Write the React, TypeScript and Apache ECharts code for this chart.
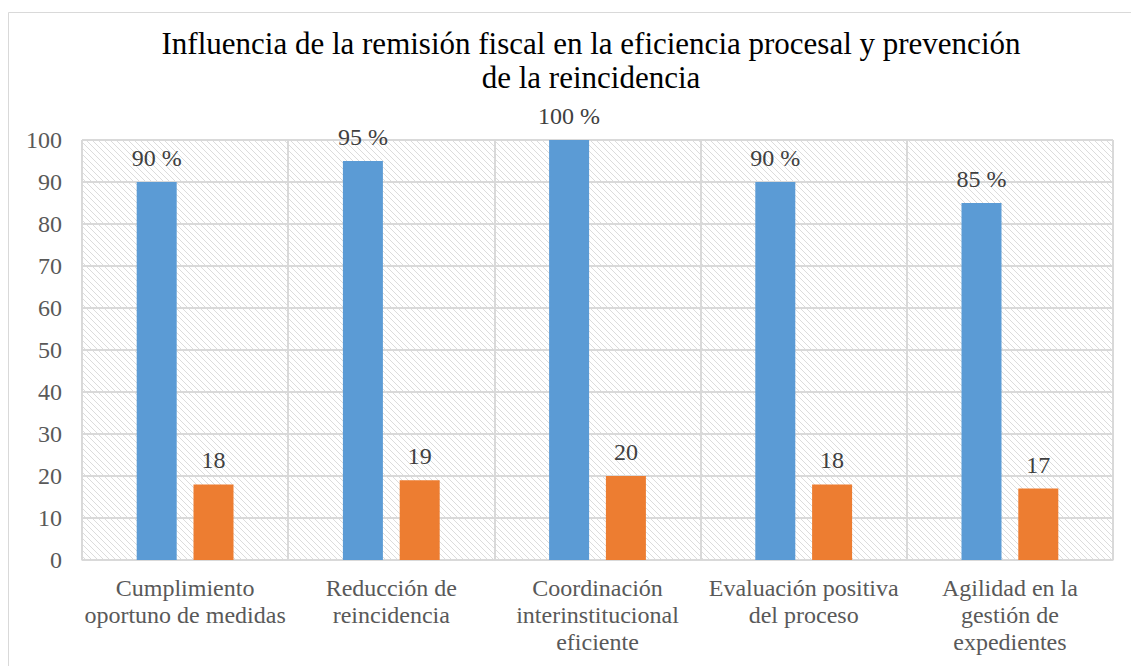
import React, { useEffect, useRef } from "react";
import * as echarts from "echarts";

const TITLE = "Influencia de la remisión fiscal en la eficiencia procesal y prevención\nde la reincidencia";
const categories = [
  "Cumplimiento\noportuno de medidas",
  "Reducción de\nreincidencia",
  "Coordinación\ninterinstitucional\neficiente",
  "Evaluación positiva\ndel proceso",
  "Agilidad en la\ngestión de\nexpedientes",
];
const percentValues = [90, 95, 100, 90, 85];
const countValues = [18, 19, 20, 18, 17];
const yTicks = { min: 0, max: 100, interval: 10 };

function makeHatch(): string {
  const c = document.createElement("canvas");
  const s = 6;
  c.width = s;
  c.height = s;
  const ctx = c.getContext("2d")!;
  ctx.fillStyle = "#ffffff";
  ctx.fillRect(0, 0, s, s);
  ctx.strokeStyle = "#dcdcdc";
  ctx.lineWidth = 1;
  ctx.beginPath();
  ctx.moveTo(-1, -1);
  ctx.lineTo(s + 1, s + 1);
  ctx.moveTo(-1, s - 1);
  ctx.lineTo(1, s + 1);
  ctx.moveTo(s - 1, -1);
  ctx.lineTo(s + 1, 1);
  ctx.stroke();
  return c.toDataURL();
}

export default function App() {
  const ref = useRef<HTMLDivElement>(null);
  useEffect(() => {
    if (!ref.current) return;
    const chart = echarts.init(ref.current, null, { renderer: "svg" });
    const font = "Liberation Serif";
    chart.setOption({
      animation: false,
      backgroundColor: "#ffffff",
      textStyle: { fontFamily: font },
      title: {
        text: TITLE,
        left: 586,
        textAlign: "center",
        top: 21,
        textStyle: {
          fontFamily: font,
          fontSize: 31,
          fontWeight: "normal",
          color: "#000000",
          lineHeight: 34,
        },
      },
      graphic: [
        {
          type: "rect",
          shape: { x: 8.5, y: 12.5, width: 1300, height: 800 },
          style: { fill: "none", stroke: "#d9d9d9", lineWidth: 1 },
          silent: true,
          z: -10,
        },
      ],
      grid: {
        left: 82,
        right: 18,
        top: 140,
        bottom: 106,
        show: true,
        borderWidth: 0,
        backgroundColor: { image: makeHatch(), repeat: "repeat" },
      },
      xAxis: {
        type: "category",
        data: categories,
        axisLine: { show: true, lineStyle: { color: "#d9d9d9", width: 1 } },
        axisTick: { show: false },
        splitLine: { show: true, lineStyle: { color: "#d9d9d9", width: 2 } },
        axisLabel: {
          fontFamily: font,
          fontSize: 24,
          color: "#595959",
          lineHeight: 27,
          margin: 14,
          interval: 0,
        },
      },
      yAxis: {
        type: "value",
        min: yTicks.min,
        max: yTicks.max,
        interval: yTicks.interval,
        axisLine: { show: false },
        axisTick: { show: false },
        splitLine: { show: true, lineStyle: { color: "#d9d9d9", width: 2 } },
        axisLabel: {
          fontFamily: font,
          fontSize: 24,
          color: "#595959",
          margin: 20,
        },
      },
      series: [
        {
          type: "bar",
          data: percentValues,
          barWidth: 40,
          barGap: "42%",
          itemStyle: { color: "#5B9BD5" },
          label: {
            show: true,
            position: "top",
            distance: 12,
            formatter: "{c} %",
            fontFamily: font,
            fontSize: 24,
            color: "#404040",
          },
        },
        {
          type: "bar",
          data: countValues,
          barWidth: 40,
          itemStyle: { color: "#ED7D31" },
          label: {
            show: true,
            position: "top",
            distance: 12,
            fontFamily: font,
            fontSize: 24,
            color: "#404040",
          },
        },
      ],
    });
    return () => chart.dispose();
  }, []);
  return (
    <div
      ref={ref}
      style={{ position: "absolute", left: 0, top: 0, width: 1131, height: 666 }}
    />
  );
}
